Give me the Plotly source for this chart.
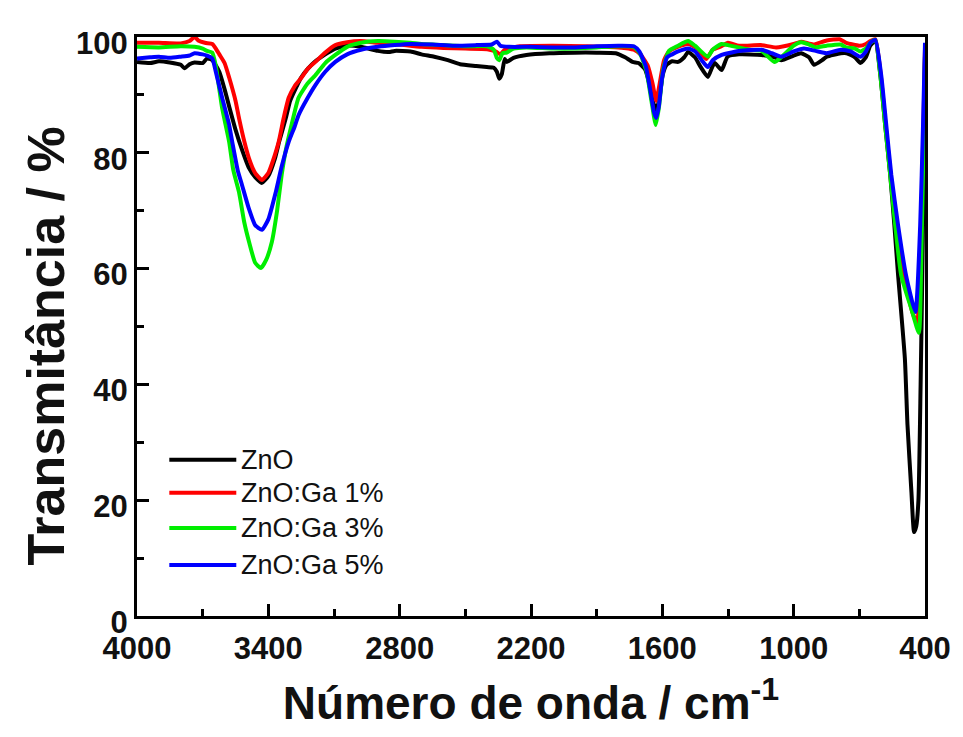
import plotly.graph_objects as go

# ---------------- data ----------------
names = ["ZnO", "ZnO:Ga 1%", "ZnO:Ga 3%", "ZnO:Ga 5%"]
colors = ["#000000", "#ff0000", "#00ee00", "#0000ff"]

zno_x = [4000, 3940, 3900, 3850, 3800, 3783, 3760, 3737, 3700, 3680, 3656, 3624, 3600, 3579, 3550, 3520, 3490,
         3460, 3430, 3400, 3370, 3350, 3320, 3300, 3270, 3250, 3220, 3185, 3140, 3094, 3040, 2977, 2900, 2850,
         2823, 2750, 2700, 2642, 2580, 2524, 2450, 2402, 2370, 2356, 2345, 2334, 2320, 2311, 2280, 2221, 2116,
         2000, 1900, 1813, 1770, 1736, 1709, 1680, 1660, 1645, 1628, 1615, 1598, 1580, 1555, 1528, 1500, 1482,
         1451, 1428, 1392, 1370, 1360, 1329, 1302, 1250, 1147, 1088, 1057, 1000, 966, 930, 907, 870, 849, 785,
         758, 720, 695, 670, 650, 627, 604, 582, 559, 540, 523, 492, 480, 462, 450, 440, 430, 420, 410, 400]
zno_y = [95.7, 95.5, 95.8, 95.6, 95.2, 94.6, 95.3, 95.6, 95.5, 96.3, 96.0, 94.0, 91.0, 88.0, 84.0, 80.5, 77.5,
         75.8, 74.8, 76.0, 79.0, 82.0, 86.0, 89.0, 91.5, 93.0, 94.5, 95.8, 97.0, 98.0, 98.5, 98.3, 97.6, 97.4,
         97.6, 97.5, 97.0, 96.6, 96.0, 95.3, 95.0, 94.8, 94.7, 94.0, 92.8, 93.5, 96.2, 95.7, 96.4, 96.9, 97.2,
         97.3, 97.3, 97.2, 96.5, 95.7, 95.5, 94.5, 92.0, 89.0, 87.5, 89.0, 93.5, 95.2, 95.8, 95.7, 96.5, 97.4,
         96.5, 95.0, 93.1, 95.0, 95.5, 94.3, 96.6, 97.0, 96.9, 96.5, 96.0, 96.8, 97.2, 96.5, 95.2, 96.0, 96.6, 97.2,
         97.2, 96.5, 95.5, 96.5, 98.5, 99.3, 93.4, 84.8, 76.2, 67.5, 58.9, 44.5, 33.0, 21.4, 14.5, 15.5, 20.0, 40.0,
         65.0, 97.0]

ga1_x = [4000, 3900, 3800, 3760, 3737, 3720, 3690, 3656, 3640, 3624, 3600, 3579, 3550, 3534, 3510, 3488, 3460,
         3429, 3400, 3380, 3352, 3330, 3307, 3280, 3248, 3220, 3185, 3140, 3094, 3040, 2977, 2900, 2823, 2700,
         2600, 2500, 2400, 2360, 2340, 2320, 2250, 2100, 1950, 1800, 1730, 1700, 1666, 1645, 1628, 1612, 1592,
         1570, 1530, 1480, 1440, 1400, 1370, 1330, 1300, 1250, 1150, 1080, 1000, 966, 910, 849, 790, 760, 700,
         670, 650, 627, 602, 580, 557, 530, 498, 458, 436, 419, 407, 400]
ga1_y = [99.0, 99.0, 98.9, 99.3, 100.0, 99.4, 99.0, 98.8, 98.0, 97.0, 95.5, 93.0, 89.0, 86.0, 82.0, 79.0, 76.5,
         75.3, 76.5, 78.5, 82.0, 86.0, 89.5, 91.5, 93.0, 94.5, 95.7, 97.3, 98.6, 99.1, 99.3, 99.0, 98.8, 98.3,
         98.1, 98.0, 97.9, 97.5, 97.0, 97.8, 98.4, 98.5, 98.4, 98.2, 97.8, 97.0, 95.0, 92.0, 89.0, 92.0, 96.0,
         97.5, 98.3, 98.8, 98.0, 96.2, 97.8, 98.4, 99.0, 98.5, 98.6, 98.2, 98.8, 99.2, 98.7, 99.4, 99.6, 99.0, 98.5,
         98.8, 99.3, 99.6, 93.4, 84.8, 76.2, 67.5, 58.9, 52.5, 50.5, 65.0, 85.0, 98.0]

ga3_x = [4000, 3900, 3800, 3737, 3700, 3680, 3656, 3640, 3624, 3611, 3579, 3560, 3534, 3510, 3488, 3460, 3434,
         3410, 3384, 3360, 3339, 3320, 3294, 3262, 3220, 3185, 3140, 3094, 3040, 2977, 2900, 2823, 2750, 2700,
         2600, 2500, 2400, 2370, 2356, 2345, 2330, 2311, 2280, 2221, 2100, 2000, 1900, 1800, 1730, 1700, 1672,
         1650, 1630, 1615, 1596, 1570, 1528, 1482, 1451, 1392, 1370, 1330, 1300, 1200, 1147, 1088, 1057, 1000,
         966, 930, 900, 849, 785, 760, 720, 695, 670, 650, 627, 604, 582, 559, 536, 509, 462, 428, 417, 405, 400]
ga3_y = [98.3, 98.2, 98.4, 98.3, 98.0, 97.6, 97.3, 95.0, 91.0, 87.7, 81.9, 77.0, 73.2, 68.0, 64.6, 61.0, 60.1,
         61.5, 64.6, 70.0, 76.2, 80.5, 84.8, 89.5, 92.0, 93.4, 95.5, 96.9, 98.3, 99.0, 99.3, 99.2, 99.0, 98.8,
         98.6, 98.4, 98.4, 97.8, 96.4, 96.0, 97.2, 97.3, 98.0, 98.2, 98.0, 98.0, 98.2, 98.4, 98.3, 97.0, 94.0,
         89.0, 84.8, 88.0, 94.5, 97.6, 98.5, 99.3, 98.5, 96.6, 97.8, 98.8, 98.6, 97.8, 97.6, 95.7, 96.5, 98.5,
         99.1, 98.7, 98.2, 98.5, 98.7, 98.2, 98.0, 97.5, 98.0, 99.0, 99.5, 93.4, 84.8, 76.2, 67.5, 58.9, 53.0,
         48.9, 62.0, 85.0, 97.0]

ga5_x = [4000, 3940, 3900, 3850, 3800, 3760, 3737, 3700, 3680, 3656, 3640, 3624, 3611, 3580, 3565, 3540, 3520,
         3490, 3460, 3429, 3400, 3366, 3340, 3307, 3280, 3262, 3220, 3185, 3140, 3094, 3040, 2977, 2900, 2823,
         2750, 2650, 2550, 2450, 2380, 2356, 2340, 2300, 2200, 2100, 2000, 1900, 1800, 1730, 1705, 1676, 1656,
         1638, 1628, 1616, 1601, 1578, 1555, 1528, 1482, 1450, 1420, 1392, 1370, 1329, 1300, 1250, 1147, 1100,
         1057, 1000, 953, 900, 849, 785, 740, 695, 670, 650, 627, 600, 577, 554, 523, 487, 444, 422, 409, 400]
ga5_y = [96.3, 96.5, 96.6, 96.4, 96.6, 96.8, 97.2, 97.0, 96.8, 96.3, 94.0, 91.5, 89.5, 85.0, 81.9, 77.0, 74.4,
         70.5, 67.5, 66.7, 68.5, 73.2, 77.5, 81.9, 84.5, 86.5, 89.5, 91.7, 94.0, 95.7, 97.0, 97.8, 98.3, 98.6,
         98.8, 98.7, 98.5, 98.6, 98.7, 99.2, 98.5, 98.3, 98.3, 98.2, 98.2, 98.4, 98.5, 98.4, 97.5, 95.0, 91.0,
         87.0, 86.0, 88.0, 93.0, 96.5, 97.0, 97.5, 98.0, 97.5, 96.0, 94.8, 96.0, 96.9, 97.2, 97.6, 97.8, 97.2,
         96.6, 97.5, 98.0, 97.6, 97.2, 97.8, 97.5, 96.6, 97.5, 99.0, 99.5, 93.4, 84.8, 76.2, 67.5, 58.9, 52.5,
         67.5, 84.8, 99.0]

xs = [zno_x, ga1_x, ga3_x, ga5_x]
ys = [zno_y, ga1_y, ga3_y, ga5_y]

x_ticks = [4000, 3400, 2800, 2200, 1600, 1000, 400]
y_ticks = [0, 20, 40, 60, 80, 100]

x_title = "Número de onda / cm<sup>-1</sup>"
y_title = "Transmitância / %"

# ---------------- figure ----------------
fig = go.Figure()
for name, color, x, y in zip(names, colors, xs, ys):
    fig.add_trace(go.Scatter(x=x, y=y, mode="lines", name=name,
                             line=dict(color=color, width=4, shape="spline", smoothing=0.5),
                             showlegend=False))

# legend drawn as line samples + text labels
leg_rows = [0.270, 0.213, 0.152, 0.088]
for name, color, yy in zip(names, colors, leg_rows):
    fig.add_shape(type="line", xref="paper", yref="paper", x0=0.041, x1=0.126, y0=yy, y1=yy,
                  line=dict(color=color, width=4))
    fig.add_annotation(xref="paper", yref="paper", x=0.130, y=yy, text=name, showarrow=False,
                       xanchor="left", yanchor="middle",
                       font=dict(family="Liberation Sans", size=27, color="#111111"))

# y-axis title (placed like in the reference, slightly below the axis centre)
fig.add_annotation(xref="paper", yref="paper", x=-0.115, y=0.466, text=y_title, showarrow=False,
                   textangle=-90, xanchor="center", yanchor="middle",
                   font=dict(family="Liberation Sans", size=52, color="#111111", weight="bold"))

tickfont = dict(family="Liberation Sans", size=31, color="#111111", weight="bold")
fig.update_layout(
    width=963, height=737,
    margin=dict(l=137, r=31, t=37, b=121),
    paper_bgcolor="white", plot_bgcolor="white",
    xaxis=dict(range=[4000, 400], tickvals=x_ticks, ticktext=[str(v) for v in x_ticks],
               ticks="inside", ticklen=12, tickwidth=3, tickcolor="black",
               minor=dict(dtick=300, tick0=400, ticks="inside", ticklen=7, tickwidth=3, tickcolor="black"),
               showline=True, linewidth=3, linecolor="black", mirror=True,
               showgrid=False, zeroline=False, tickfont=tickfont, ticklabelstandoff=3,
               title=dict(text=x_title, standoff=22,
                          font=dict(family="Liberation Sans", size=46, color="#111111", weight="bold"))),
    yaxis=dict(range=[0, 100], tickvals=y_ticks, ticktext=[str(v) for v in y_ticks],
               ticks="inside", ticklen=12, tickwidth=3, tickcolor="black",
               minor=dict(dtick=10, tick0=0, ticks="inside", ticklen=7, tickwidth=3, tickcolor="black"),
               showline=True, linewidth=3, linecolor="black", mirror=True,
               showgrid=False, zeroline=False, tickfont=tickfont, ticklabelshift=6),
)

fig.write_html("out.html")
